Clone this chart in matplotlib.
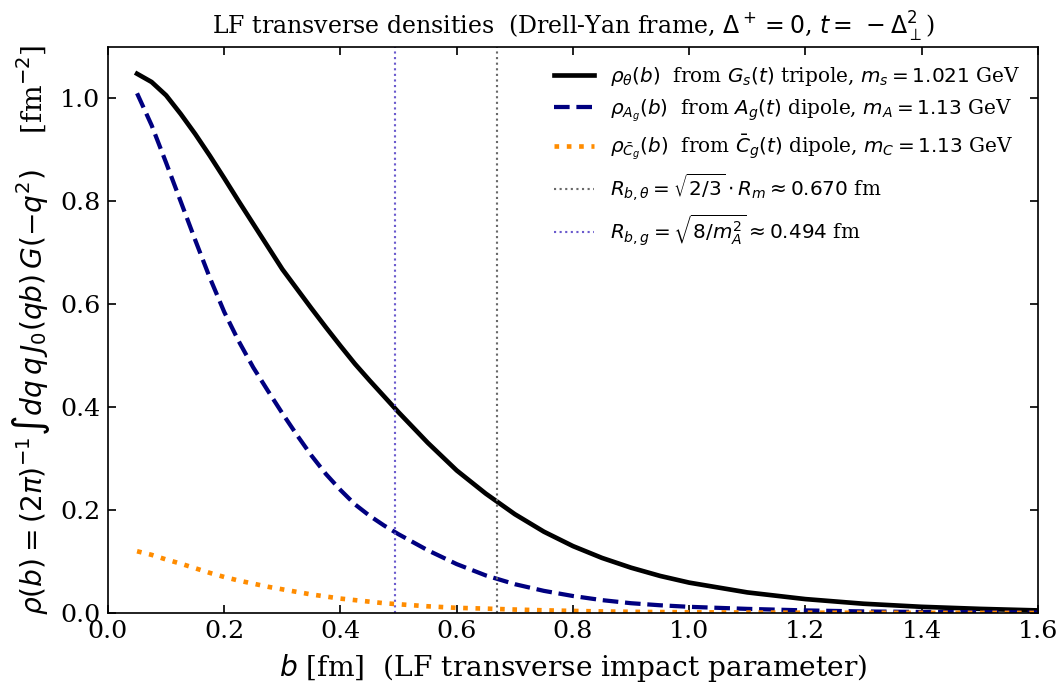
import numpy as np
import matplotlib
matplotlib.use("Agg")
import matplotlib.pyplot as plt

# impact parameter grid [fm]
b = [0.05, 0.075, 0.1, 0.125, 0.15, 0.175, 0.2, 0.225, 0.25, 0.275, 0.3,
     0.325, 0.35, 0.375, 0.4, 0.425, 0.45, 0.475, 0.5, 0.55, 0.6, 0.65,
     0.7, 0.75, 0.8, 0.85, 0.9, 0.95, 1.0, 1.1, 1.2, 1.3, 1.4, 1.5, 1.6]

# rho_theta(b), tripole
rho_theta = [1.048, 1.032, 1.006, 0.970, 0.931, 0.889, 0.845, 0.800, 0.756,
             0.712, 0.668, 0.630, 0.592, 0.555, 0.519, 0.484, 0.452, 0.421,
             0.390, 0.331, 0.277, 0.232, 0.192, 0.158, 0.130, 0.107, 0.088,
             0.072, 0.059, 0.040, 0.027, 0.018, 0.012, 0.008, 0.005]

# rho_{A_g}(b), dipole
rho_A = [1.010, 0.948, 0.875, 0.800, 0.725, 0.652, 0.585, 0.528, 0.477,
         0.432, 0.388, 0.346, 0.306, 0.270, 0.239, 0.211, 0.189, 0.170,
         0.153, 0.122, 0.095, 0.073, 0.056, 0.043, 0.033, 0.025, 0.019,
         0.015, 0.012, 0.008, 0.005, 0.003, 0.002, 0.0015, 0.001]

# rho_{C_g}(b), dipole
rho_C = [0.120, 0.113, 0.104, 0.096, 0.087, 0.078, 0.070, 0.063, 0.057,
         0.051, 0.046, 0.041, 0.036, 0.032, 0.028, 0.025, 0.022, 0.019,
         0.017, 0.013, 0.010, 0.0085, 0.0067, 0.0052, 0.004, 0.003, 0.0023,
         0.0018, 0.0014, 0.0009, 0.0006, 0.0004, 0.0003, 0.0002, 0.0001]

R_theta = 0.670
R_g = 0.494

font = {'family': 'serif', 'weight': 'normal', 'size': 12}
matplotlib.rc('font', **font)
plt.rcParams['mathtext.fontset'] = 'dejavusans'

fig = plt.figure(figsize=(7.0, 683 / 152), dpi=152)
ax = fig.add_axes([0.1015, 0.1025, 0.874, 0.8287])

ax.plot(b, rho_theta, '-', c='black', lw=2.2,
        label=r'$\rho_\theta(b)$  from $G_s(t)$ tripole, $m_s = 1.021$ GeV')
ax.plot(b, rho_A, '--', c='navy', lw=2.0,
        label=r'$\rho_{A_g}(b)$  from $A_g(t)$ dipole, $m_A = 1.13$ GeV')
ax.plot(b, rho_C, ':', c='darkorange', lw=2.2,
        label=r'$\rho_{\bar{C}_g}(b)$  from $\bar{C}_g(t)$ dipole, $m_C = 1.13$ GeV')
ax.axvline(R_theta, ls=':', c='dimgray', lw=1.0,
           label=r'$R_{b,\theta} = \sqrt{2/3}\cdot R_m \approx 0.670$ fm')
ax.axvline(R_g, ls=':', c='slateblue', lw=1.0,
           label=r'$R_{b,g} = \sqrt{8/m_A^2} \approx 0.494$ fm')

ax.set_xlim(0, 1.6)
ax.set_ylim(0, 1.1)
ax.tick_params(direction='in', top=True, right=True, length=4)
ax.set_xlabel(r'$b$ [fm]  (LF transverse impact parameter)', fontsize=13.3)
ax.set_ylabel(r'$\rho(b) = (2\pi)^{-1}\int dq\,q\,J_0(qb)\,G(-q^2)$    [fm$^{-2}$]',
              fontsize=13.3)
ax.set_title(r'LF transverse densities  (Drell-Yan frame, $\Delta^+ = 0$, $t =\,-\Delta_\perp^2$)',
             fontsize=11.2)
ax.legend(loc='upper right', frameon=False, fontsize=9.5, labelspacing=0.45)

plt.savefig("out.png", dpi=152)
